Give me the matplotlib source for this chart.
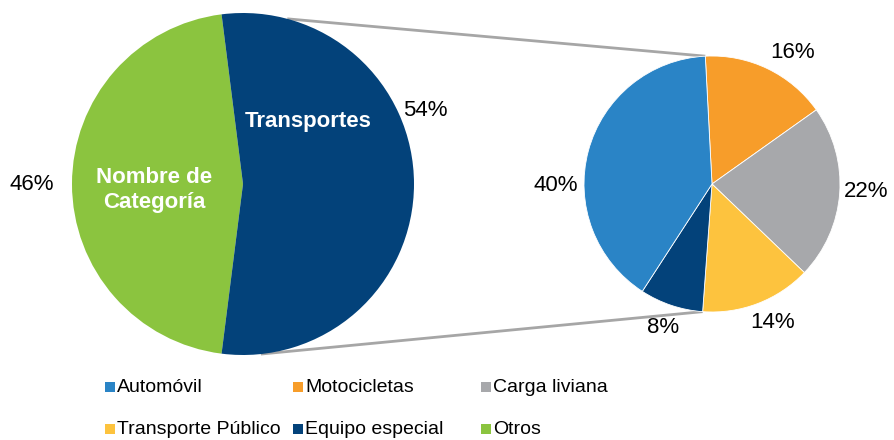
import numpy as np
import matplotlib
matplotlib.use("Agg")
import matplotlib.pyplot as plt
from matplotlib.patches import Rectangle

# main pie: Otros vs Transportes (the latter is broken out on the right)
main_labels = ["Otros", "Transportes"]
main_values = [46, 54]

# breakdown of Transportes, clockwise from the top
sub_labels = ["Motocicletas", "Carga liviana", "Transporte Público", "Equipo especial", "Automóvil"]
sub_values = [16, 22, 14, 8, 40]

legend_order = ["Automóvil", "Motocicletas", "Carga liviana",
                "Transporte Público", "Equipo especial", "Otros"]

colors = {
    "Automóvil": "#2A84C6",
    "Motocicletas": "#F79D2A",
    "Carga liviana": "#A7A8AB",
    "Transporte Público": "#FDC33E",
    "Equipo especial": "#03427A",
    "Otros": "#8BC43F",
    "Transportes": "#03427A",
}

plt.rcParams["font.family"] = ["Liberation Sans", "DejaVu Sans"]

W, H = 894, 440
fig = plt.figure(figsize=(W / 100, H / 100), dpi=100)
ax = fig.add_axes([0, 0, 1, 1])

# work in pixel units, y measured from the bottom
c1, r1 = (243, H - 184), 171
c2, r2 = (712, H - 184), 128

# left pie, Transportes centred on the right side
t_frac = main_values[1] / sum(main_values)
ax.pie(main_values, colors=[colors[k] for k in main_labels],
       startangle=t_frac * 180, counterclock=True,
       center=c1, radius=r1, wedgeprops=dict(linewidth=0))

# right pie
start2 = 93
ax.pie(sub_values, colors=[colors[k] for k in sub_labels],
       startangle=start2, counterclock=False,
       center=c2, radius=r2, wedgeprops=dict(linewidth=0.6, edgecolor="white"))

# connector lines between the two pies
cum = np.cumsum([0] + sub_values) / sum(sub_values)
top_ang = np.radians(start2)
bot_ang = np.radians(start2 - cum[3] * 360)
left_top = np.radians(75)
left_bot = np.radians(-84)
for la, ra in [(left_top, top_ang), (left_bot, bot_ang)]:
    ax.plot([c1[0] + r1 * np.cos(la), c2[0] + r2 * np.cos(ra)],
            [c1[1] + r1 * np.sin(la), c2[1] + r2 * np.sin(ra)],
            color="#A6A6A6", lw=2, solid_capstyle="butt", zorder=0)

# percentage labels
main_pos = {"Otros": (32, 184), "Transportes": (425, 110)}
sub_pos = {"Motocicletas": (793, 52), "Carga liviana": (866, 191),
           "Transporte Público": (773, 322), "Equipo especial": (663, 327),
           "Automóvil": (556, 185)}
for name, val in zip(main_labels, main_values):
    x, y = main_pos[name]
    ax.text(x, H - y, f"{val}%", ha="center", va="center", fontsize=16, color="black")
for name, val in zip(sub_labels, sub_values):
    x, y = sub_pos[name]
    ax.text(x, H - y, f"{val}%", ha="center", va="center", fontsize=16, color="black")

# category names inside the left pie
ax.text(308, H - 121, "Transportes", ha="center", va="center",
        fontsize=16, fontweight="bold", color="white")
ax.text(154, H - 190, "Nombre de\nCategoría", ha="center", va="center",
        fontsize=16, fontweight="bold", color="white", linespacing=1.25)

# legend, three per row
col_x = [110, 298, 486]
row_y = [387, 429]
sq = 10
for i, name in enumerate(legend_order):
    x, y = col_x[i % 3], row_y[i // 3]
    ax.add_patch(Rectangle((x - sq / 2, H - y - sq / 2), sq, sq,
                           facecolor=colors[name], edgecolor="none"))
    ax.text(x + 7, H - y, name, ha="left", va="center", fontsize=14)

ax.set_xlim(0, W)
ax.set_ylim(0, H)
ax.set_aspect("auto")
ax.axis("off")

fig.savefig("out.png", dpi=100, facecolor="white")
